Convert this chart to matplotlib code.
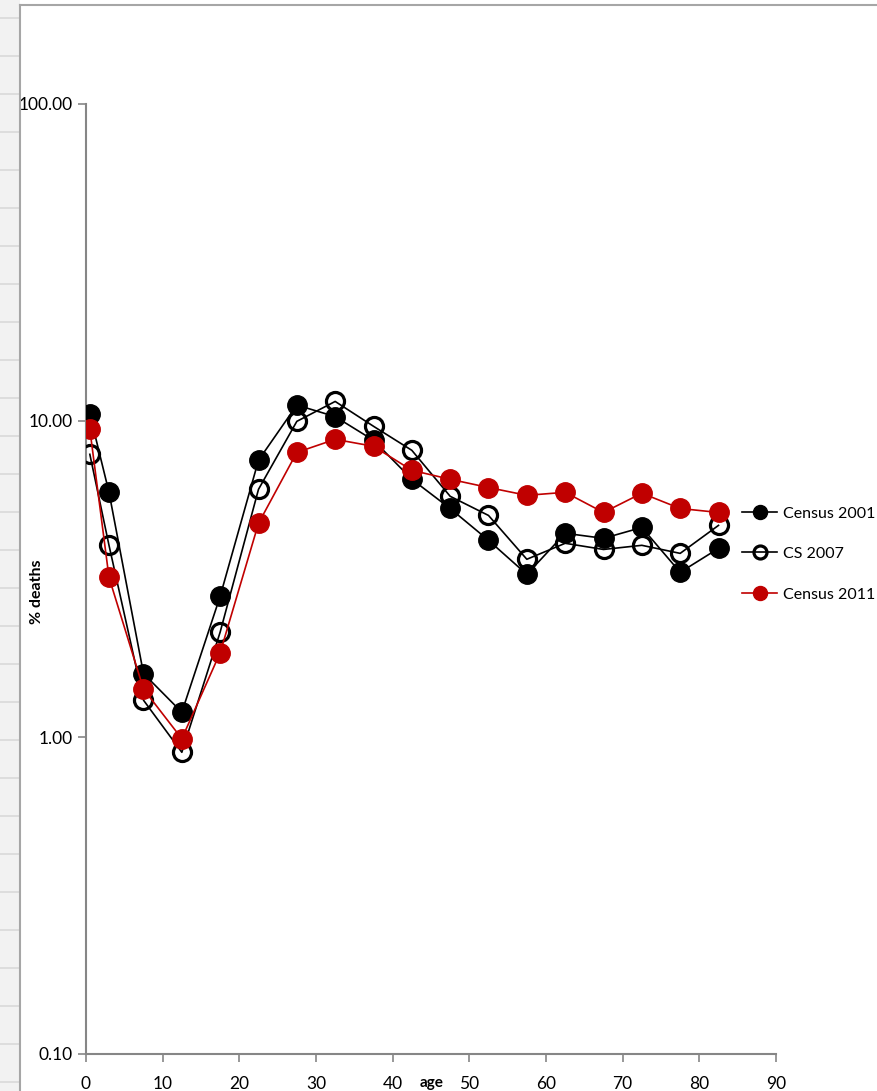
import numpy as np
import matplotlib
matplotlib.use("Agg")
from matplotlib import pyplot as plt
from matplotlib.ticker import FixedLocator, FixedFormatter, NullLocator
from matplotlib.lines import Line2D
from matplotlib.patches import Rectangle

plt.rcParams['font.family'] = ['Lato', 'DejaVu Sans']

# age group midpoints
ages = [0.5, 3, 7.5, 12.5, 17.5, 22.5, 27.5, 32.5, 37.5, 42.5, 47.5, 52.5,
        57.5, 62.5, 67.5, 72.5, 77.5, 82.5]

census_2001 = [10.5, 5.94, 1.59, 1.20, 2.79, 7.50, 11.2, 10.3, 8.67, 6.53, 5.28,
               4.19, 3.27, 4.41, 4.25, 4.60, 3.32, 3.95]
cs_2007 = [7.83, 4.04, 1.31, 0.897, 2.15, 6.07, 9.95, 11.5, 9.60, 8.06, 5.77,
           5.02, 3.65, 4.10, 3.92, 4.04, 3.81, 4.67]
census_2011 = [9.39, 3.20, 1.42, 0.99, 1.85, 4.74, 7.94, 8.73, 8.30, 6.97, 6.53,
               6.15, 5.81, 5.94, 5.13, 5.90, 5.28, 5.13]

y_ticks = [0.1, 1, 10, 100]
y_labels = ["0.10", "1.00", "10.00", "100.00"]
x_ticks = [0, 10, 20, 30, 40, 50, 60, 70, 80, 90]

red = "#C00000"
grey = "#868686"

fig = plt.figure(figsize=(8.78, 10.91), dpi=100)

# screenshot frame: grey strip on the left with row lines
fig.patches.append(Rectangle((0, 0), 20 / 878, 1, transform=fig.transFigure,
                             facecolor="#f2f2f2", edgecolor="none", zorder=0))
for yy in np.arange(1091 - 18, 0, -38):
    fig.lines.append(Line2D([0, 20 / 878], [yy / 1091, yy / 1091],
                            transform=fig.transFigure, color="#d9d9d9", lw=1.2))
fig.lines.append(Line2D([20 / 878, 20 / 878], [0, 1 - 5 / 1091],
                        transform=fig.transFigure, color="#a6a6a6", lw=1.5))
fig.lines.append(Line2D([20 / 878, 1], [1 - 5 / 1091, 1 - 5 / 1091],
                        transform=fig.transFigure, color="#a6a6a6", lw=1.5))

ax = fig.add_axes([86 / 878, 37 / 1091, 690 / 878, 950 / 1091])
ax.set_yscale("log")
ax.set_ylim(0.1, 100)
ax.set_xlim(0, 90)

ax.plot(ages, census_2001, "-o", color="black", lw=1.2, ms=14,
        mfc="black", mec="black", label="Census 2001", zorder=3)
ax.plot(ages, cs_2007, "-o", color="black", lw=1.2, ms=13,
        mfc="none", mec="black", mew=2.3, label="CS 2007", zorder=3)
ax.plot(ages, census_2011, "-o", color=red, lw=1.2, ms=14,
        mfc=red, mec=red, label="Census 2011", zorder=4)

ax.yaxis.set_major_locator(FixedLocator(y_ticks))
ax.yaxis.set_major_formatter(FixedFormatter(y_labels))
ax.yaxis.set_minor_locator(NullLocator())
ax.set_xticks(x_ticks)

for s in ["top", "right"]:
    ax.spines[s].set_visible(False)
for s in ["left", "bottom"]:
    ax.spines[s].set_color(grey)
    ax.spines[s].set_linewidth(1.5)
ax.tick_params(axis="both", colors=grey, direction="out", length=6, width=1.2,
               labelcolor="black", labelsize=12.5)
ax.tick_params(axis="x", pad=10)

fig.text(37 / 878, 1 - 592 / 1091, "% deaths", rotation=90, fontsize=11.5,
         fontweight="bold", ha="center", va="center")
fig.text(432 / 878, 1 - 1090 / 1091, "age", fontsize=11, fontweight="bold",
         ha="center", va="bottom")

ax.legend(loc="center left", bbox_to_anchor=(742 / 878, 1 - 554 / 1091),
          bbox_transform=fig.transFigure, frameon=False, fontsize=11.5,
          markerscale=0.72, handlelength=2.2, handletextpad=0.35,
          labelspacing=1.65, borderpad=0, borderaxespad=0)

fig.savefig("out.png", dpi=100)
